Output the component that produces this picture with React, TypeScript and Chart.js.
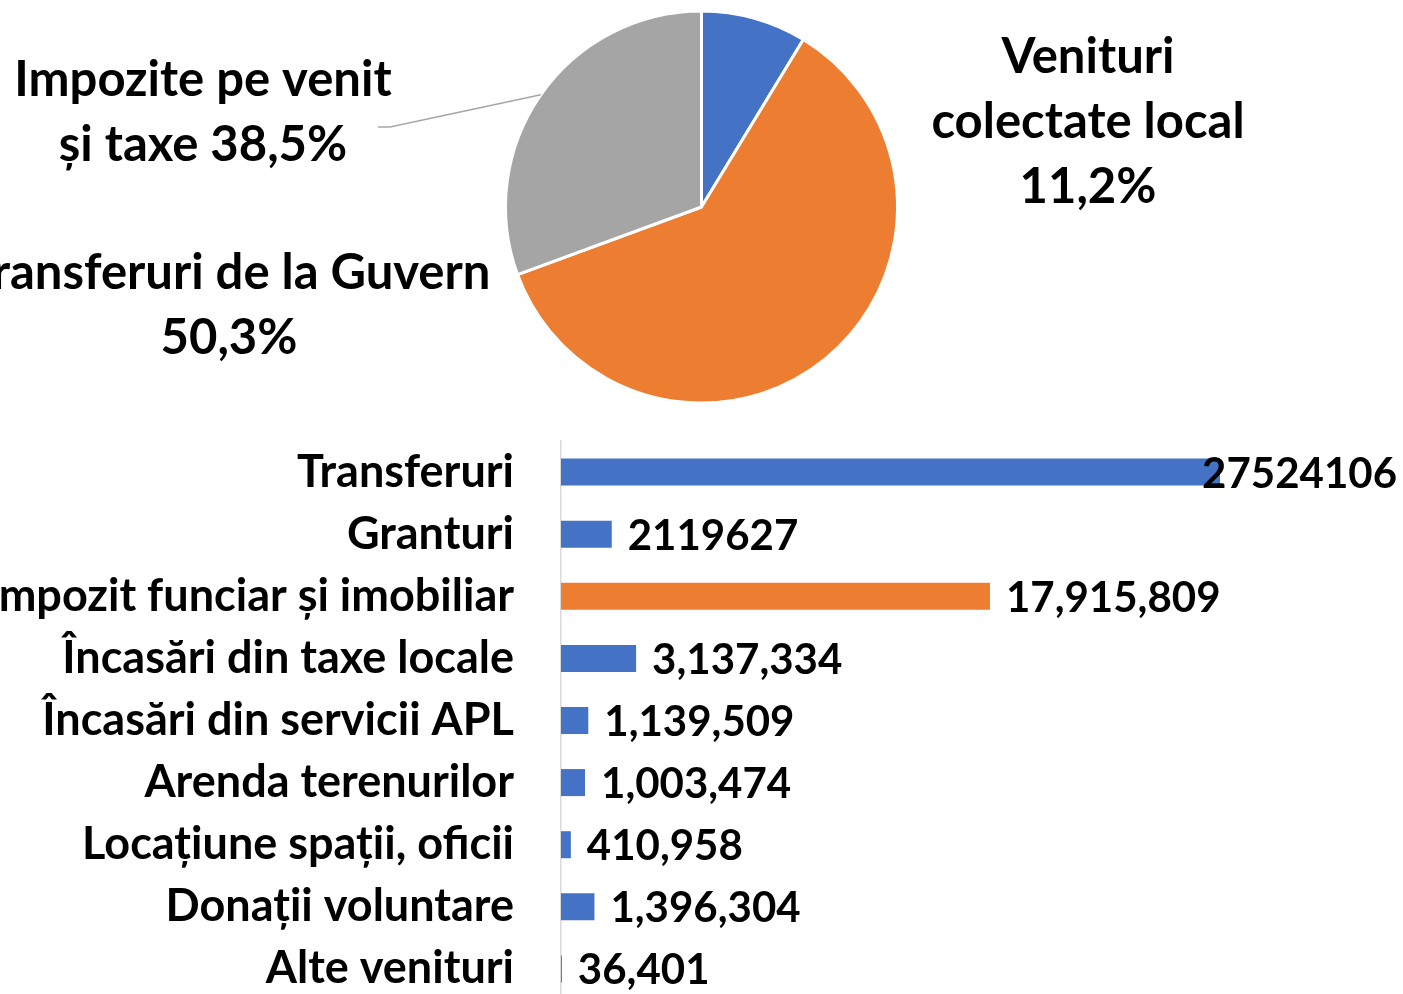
import React, { useEffect, useRef } from "react";
import { Chart, registerables } from "chart.js";
Chart.register(...registerables);

// ---- Pie data ----
const pieCategories = ["Venituri colectate local", "Transferuri de la Guvern", "Impozite pe venit și taxe"];
const pieValues = [8.7, 60.7, 30.6];
const pieColors = ["#4472C4", "#ED7D31", "#A5A5A5"];
const pieLabelLines = [
  ["Venituri", "colectate local", "11,2%"],
  ["Transferuri de la Guvern", "50,3%"],
  ["Impozite pe venit", "și taxe 38,5%"],
];

// ---- Bar data ----
const barCategories = [
  "Transferuri",
  "Granturi",
  "Impozit funciar și imobiliar",
  "Încasări din taxe locale",
  "Încasări din servicii APL",
  "Arenda terenurilor",
  "Locațiune spații, oficii",
  "Donații voluntare",
  "Alte venituri",
];
const barValues = [27524106, 2119627, 17915809, 3137334, 1139509, 1003474, 410958, 1396304, 36401];
const barColors = ["#4472C4", "#4472C4", "#ED7D31", "#4472C4", "#4472C4", "#4472C4", "#4472C4", "#4472C4", "#4472C4"];
const barUseSeparator = [false, false, true, true, true, true, true, true, true];

const FONT = "Lato, Carlito, Calibri, sans-serif";

function fmt(v: number, sep: boolean) {
  if (!sep) return String(v);
  return String(v).replace(/\B(?=(\d{3})+(?!\d))/g, ",");
}

const pieLabelPlugin = {
  id: "pieLabels",
  afterDraw(chart: any) {
    const ctx = chart.ctx;
    const meta = chart.getDatasetMeta(0);
    ctx.save();
    // leader line for the grey slice
    const arc = meta.data[2];
    const mid = (arc.startAngle + arc.endAngle) / 2;
    const ex = arc.x + Math.cos(mid) * arc.outerRadius;
    const ey = arc.y + Math.sin(mid) * arc.outerRadius;
    ctx.strokeStyle = "#A6A6A6";
    ctx.lineWidth = 1.5;
    ctx.beginPath();
    ctx.moveTo(378, 127);
    ctx.lineTo(390, 127);
    ctx.lineTo(ex, ey);
    ctx.stroke();

    ctx.fillStyle = "#000";
    ctx.font = `bold 49px ${FONT}`;
    ctx.textAlign = "center";
    ctx.textBaseline = "middle";
    const anchors = [
      { x: 1088, y: 57 },
      { x: 229, y: 273 },
      { x: 203, y: 80 },
    ];
    pieLabelLines.forEach((lines, i) => {
      lines.forEach((t, j) => {
        ctx.fillText(t, anchors[i].x, anchors[i].y + j * 65);
      });
    });
    ctx.restore();
  },
};

const barLabelPlugin = {
  id: "barLabels",
  afterDatasetsDraw(chart: any) {
    const ctx = chart.ctx;
    const meta = chart.getDatasetMeta(0);
    ctx.save();
    ctx.fillStyle = "#000";
    ctx.font = `bold 42px ${FONT}`;
    ctx.textAlign = "left";
    ctx.textBaseline = "middle";
    meta.data.forEach((bar: any, i: number) => {
      const text = fmt(barValues[i], barUseSeparator[i]);
      const w = ctx.measureText(text).width;
      let x = bar.x + 16;
      if (x + w > chart.width - 6) x = chart.width - 6 - w;
      ctx.fillText(text, x, bar.y + 2);
    });
    ctx.restore();
  },
};

export default function App() {
  const pieRef = useRef<HTMLCanvasElement>(null);
  const barRef = useRef<HTMLCanvasElement>(null);

  useEffect(() => {
    document.body.style.margin = "0";
    document.body.style.overflow = "hidden";
    const pie = new Chart(pieRef.current!, {
      type: "pie",
      data: {
        labels: pieCategories,
        datasets: [
          {
            data: pieValues,
            backgroundColor: pieColors,
            borderColor: "#FFFFFF",
            borderWidth: 3,
          },
        ],
      },
      options: {
        responsive: false,
        animation: false,
        radius: 196,
        events: [],
        plugins: { legend: { display: false }, tooltip: { enabled: false } },
      } as any,
      plugins: [pieLabelPlugin],
    });

    const bar = new Chart(barRef.current!, {
      type: "bar",
      data: {
        labels: barCategories,
        datasets: [
          {
            data: barValues,
            backgroundColor: barColors,
            barPercentage: 0.435,
            categoryPercentage: 1,
          },
        ],
      },
      options: {
        indexAxis: "y",
        responsive: false,
        animation: false,
        events: [],
        layout: { padding: { top: 41, right: 4, bottom: 0, left: 0 } },
        plugins: { legend: { display: false }, tooltip: { enabled: false } },
        scales: {
          x: { display: false, min: 0, max: 35000000 },
          y: {
            afterFit: (scale: any) => {
              scale.width = 561;
              scale.paddingTop = 0;
              scale.paddingBottom = 0;
            },
            grid: { color: "rgba(0,0,0,0)", drawTicks: false },
            border: { display: true, color: "#D9D9D9", width: 1.5 },
            ticks: {
              color: "#000",
              padding: 47,
              autoSkip: false,
              font: { family: FONT, size: 45, weight: "bold" },
            },
          },
        },
      } as any,
      plugins: [barLabelPlugin],
    });

    return () => {
      pie.destroy();
      bar.destroy();
    };
  }, []);

  return (
    <div style={{ position: "fixed", left: 0, top: 0, width: 1403, height: 994, overflow: "hidden", background: "#fff" }}>
      <canvas ref={barRef} width={1403} height={600} style={{ position: "absolute", left: 0, top: 400, width: 1403, height: 600 }} />
      <canvas ref={pieRef} width={1403} height={414} style={{ position: "absolute", left: 0, top: 0, width: 1403, height: 414 }} />
    </div>
  );
}
